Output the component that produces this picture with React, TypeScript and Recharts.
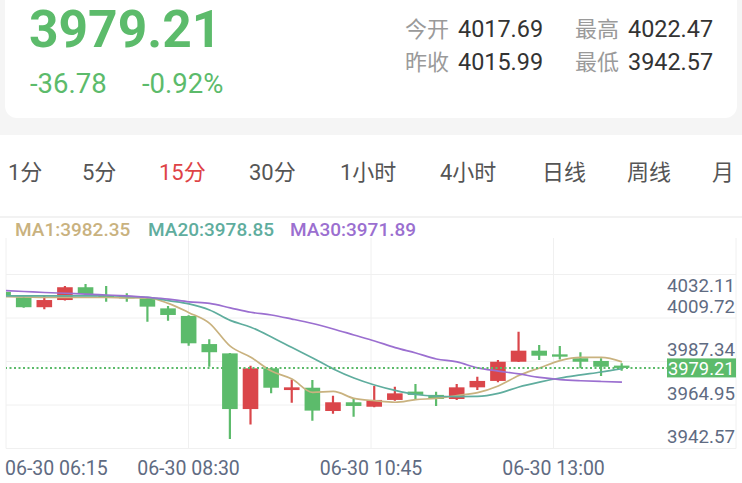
import React from "react";
import { ComposedChart, Bar, Line, XAxis, YAxis, CartesianGrid, ReferenceLine } from "recharts";

// 15分 K线 06-30
const times = [
  "06:15", "06:30", "06:45", "07:00", "07:15", "07:30", "07:45", "08:00", "08:15", "08:30",
  "08:45", "09:00", "09:15", "09:30", "09:45", "10:00", "10:15", "10:30", "10:45", "11:00",
  "11:15", "11:30", "11:45", "12:00", "12:15", "12:30", "12:45", "13:00", "13:15", "13:30", "13:45",
];
const opens = [
  4018.4, 4015.6, 4010.5, 4014.2, 4020.8, 4016.8, 4016.3, 4015.1, 4009.9, 4006.0,
  3991.5, 3986.7, 3958.0, 3979.0, 3967.8, 3969.0, 3957.0, 3961.5, 3959.2, 3962.7,
  3967.0, 3965.3, 3963.2, 3969.2, 3972.5, 3982.4, 3988.1, 3986.2, 3984.2, 3982.8, 3980.4,
];
const highs = [
  4018.9, 4015.9, 4016.8, 4021.4, 4022.47, 4021.4, 4017.7, 4015.3, 4011.1, 4006.3,
  3994.0, 3986.9, 3980.3, 3979.2, 3973.3, 3973.0, 3964.9, 3963.2, 3969.9, 3969.5,
  3970.9, 3966.9, 3970.9, 3974.7, 3983.3, 3997.9, 3991.0, 3990.5, 3987.3, 3984.2, 3981.6,
];
const lows = [
  4015.8, 4010.2, 4009.4, 4013.9, 4016.8, 4013.3, 4013.3, 4003.0, 4003.5, 3990.7,
  3979.8, 3942.57, 3950.1, 3966.1, 3961.3, 3952.0, 3955.6, 3954.1, 3958.9, 3962.3,
  3963.0, 3959.6, 3962.7, 3967.8, 3971.8, 3982.2, 3983.3, 3983.6, 3979.0, 3975.0, 3977.8,
];
const closes = [
  4016.3, 4010.5, 4014.2, 4020.8, 4017.3, 4015.9, 4015.1, 4010.8, 4006.5, 3991.9,
  3987.3, 3958.0, 3979.0, 3969.0, 3969.2, 3957.2, 3961.5, 3959.6, 3962.7, 3966.1,
  3965.3, 3963.2, 3969.2, 3972.5, 3982.4, 3988.1, 3985.5, 3985.0, 3982.4, 3979.8, 3979.21,
];
const ma1 = [
  4015.9, 4015.8, 4015.6, 4015.6, 4015.6, 4015.6, 4015.3, 4015.3, 4012.5, 4007.7,
  4002.2, 3990.4, 3984.7, 3977.6, 3973.5, 3966.6, 3967.1, 3963.5, 3962.3, 3961.5,
  3962.9, 3963.5, 3965.0, 3966.5, 3969.9, 3975.3, 3979.2, 3983.0, 3984.6, 3984.6, 3982.35,
];
const ma20 = [
  4016.3, 4016.3, 4016.3, 4016.3, 4016.3, 4016.4, 4016.0, 4015.6, 4013.9, 4012.2,
  4009.1, 4003.7, 4000.2, 3995.2, 3989.7, 3984.3, 3978.7, 3974.0, 3970.4, 3967.6,
  3965.5, 3964.6, 3964.4, 3964.5, 3966.1, 3969.4, 3971.9, 3974.0, 3975.6, 3977.1, 3978.85,
];
const ma30 = [
  4019.1, 4018.6, 4018.1, 4017.7, 4017.3, 4016.8, 4016.3, 4015.6, 4014.7, 4013.3,
  4012.5, 4010.2, 4007.9, 4006.5, 4004.4, 4002.1, 3999.3, 3996.2, 3993.1, 3989.7,
  3986.9, 3983.8, 3982.3, 3979.2, 3977.6, 3976.1, 3974.3, 3973.2, 3972.6, 3972.2, 3971.89,
];
const yTickLabels = ["3942.57", "3964.95", "3987.34", "4009.72", "4032.11", ""];
const tabs = ["1分", "5分", "15分", "30分", "1小时", "4小时", "日线", "周线", "月"];
const tabLeft = [8, 82, 159, 249, 340, 440, 542, 627, 712];

const GREEN = "#5cbb6b";
const RED = "#da464a";
const AXIS_TEXT = "#5f6b82";
const FONT = "Roboto, 'Noto Sans CJK SC', sans-serif";

const data = times.map((t, i) => ({
  i,
  time: t,
  open: opens[i],
  high: highs[i],
  low: lows[i],
  close: closes[i],
  ma1: ma1[i],
  ma20: ma20[i],
  ma30: ma30[i],
}));

const X_DOMAIN: [number, number] = [0.127, 35.53];
const Y_DOMAIN: [number, number] = [3937.67, 4049.79];
const xTicks = [0, 1, 2, 3, 4].map((k) => X_DOMAIN[0] + ((X_DOMAIN[1] - X_DOMAIN[0]) * k) / 4);
const yTicks = [0, 1, 2, 3, 4, 5].map((k) => Y_DOMAIN[0] + ((Y_DOMAIN[1] - Y_DOMAIN[0]) * k) / 5);
const last = closes[closes.length - 1];

function Candle(props: any) {
  const { x, y, width, height, payload } = props;
  if (!payload) return null;
  const top = Math.min(y, y + height);
  const h = Math.abs(height);
  const { open, close, high, low } = payload;
  const k = h / (high - low);
  const yOf = (v: number) => top + (high - v) * k;
  const color = close >= open ? RED : GREEN;
  const cx = x + width / 2;
  const bTop = yOf(Math.max(open, close));
  const bBot = yOf(Math.min(open, close));
  return (
    <g>
      <line x1={cx} x2={cx} y1={top} y2={top + h} stroke={color} strokeWidth={2.2} />
      <rect x={cx - 7.8} y={bTop} width={15.6} height={Math.max(bBot - bTop, 2)} fill={color} />
    </g>
  );
}

function XTick(props: any) {
  const { x, y, payload, index } = props;
  const idx = Math.round(payload.value);
  if (index > 3 || !times[idx]) return null;
  return (
    <text x={index === 0 ? x - 1 : x} y={y + 18} textAnchor={index === 0 ? "start" : "middle"}
      fill={AXIS_TEXT} fontSize={19.5} fontFamily={FONT}>
      {"06-30 " + times[idx]}
    </text>
  );
}

function YTick(props: any) {
  const { y, index } = props;
  const label = yTickLabels[index];
  if (!label) return null;
  return (
    <text x={735} y={index === 4 ? y + 17.5 : y - 5.5} textAnchor="end"
      fill={AXIS_TEXT} fontSize={18.7} fontFamily={FONT}>
      {label}
    </text>
  );
}

function PriceTag(props: any) {
  const vb = props.viewBox || {};
  const right = vb.x + vb.width;
  return (
    <g>
      <rect x={right - 69} y={vb.y - 9.5} width={69} height={19} fill={GREEN} />
      <text x={right - 1.5} y={vb.y + 6.8} textAnchor="end" fill="#fff" fontSize={18.3}
        fontFamily={FONT}>
        {last.toFixed(2)}
      </text>
    </g>
  );
}

export default function App() {
  const abs = (s: React.CSSProperties): React.CSSProperties => ({ position: "absolute", whiteSpace: "nowrap", ...s });
  return (
    <div style={{ position: "relative", width: 742, height: 483, overflow: "hidden", background: "#fff", fontFamily: FONT }}>
      <style>{"body{margin:0}"}</style>
      <div style={abs({ left: 0, top: 0, width: 742, height: 135, background: "#f5f5f5" })} />
      <div style={abs({ left: 5, top: -14, width: 732, height: 132, background: "#fff", borderRadius: 12 })} />

      <div style={abs({ left: 29, top: 4, fontSize: 51.5, lineHeight: "52px", fontWeight: 700, color: GREEN })}>3979.21</div>
      <div style={abs({ left: 30, top: 70, fontSize: 27.5, lineHeight: "27.5px", color: GREEN })}>-36.78</div>
      <div style={abs({ left: 142, top: 70, fontSize: 27.5, lineHeight: "27.5px", color: GREEN })}>-0.92%</div>

      {[
        ["今开", "4017.69", 405, 18],
        ["最高", "4022.47", 575, 18],
        ["昨收", "4015.99", 405, 51],
        ["最低", "3942.57", 575, 51],
      ].map(([k, v, l, t]) => (
        <div key={k as string} style={abs({ left: l as number, top: t as number, fontSize: 22, lineHeight: "23px" })}>
          <span style={{ color: "#9a9a9a" }}>{k}</span>
          <span style={{ color: "#333", marginLeft: 9, fontSize: 23.4 }}>{v}</span>
        </div>
      ))}

      {tabs.map((t, i) => (
        <div key={t} style={abs({ left: tabLeft[i], top: 162, fontSize: 22, lineHeight: "22px", color: t === "15分" ? "#de4346" : "#555" })}>
          {t}
        </div>
      ))}
      <div style={abs({ left: 0, top: 216, width: 742, height: 2, background: "#f2f2f2" })} />

      <div style={abs({ left: 0, top: 0 })}>
        <ComposedChart width={742} height={483} data={data} margin={{ top: 231, right: 6, bottom: 0, left: 6 }}>
          <CartesianGrid stroke="#f0f0f0" />
          <XAxis dataKey="i" type="number" domain={X_DOMAIN} ticks={xTicks} allowDataOverflow
            axisLine={false} tickLine={false} height={34.5} tick={<XTick />} interval={0} />
          <YAxis type="number" domain={Y_DOMAIN} ticks={yTicks} allowDataOverflow orientation="right"
            mirror axisLine={false} tickLine={false} tick={<YTick />} interval={0} />
          <Bar dataKey={(d: any) => [d.low, d.high]} barSize={16} shape={<Candle />} isAnimationActive={false} />
          <Line type="monotone" dataKey="ma1" stroke="#c9b27f" strokeWidth={1.7} dot={false} isAnimationActive={false} />
          <Line type="monotone" dataKey="ma20" stroke="#5fad9e" strokeWidth={1.7} dot={false} isAnimationActive={false} />
          <Line type="monotone" dataKey="ma30" stroke="#9b6fd0" strokeWidth={1.7} dot={false} isAnimationActive={false} />
          <ReferenceLine y={last} stroke={GREEN} strokeWidth={2} strokeDasharray="2 2.5" label={<PriceTag />} />
        </ComposedChart>
      </div>

      <div style={abs({ left: 0, top: 219, width: 742, height: 19, background: "#fff", fontSize: 19, lineHeight: "19px", fontWeight: 500 })}>
        <span style={abs({ left: 15, top: 1, color: "#c9b27f" })}>MA1:{ma1[ma1.length - 1].toFixed(2)}</span>
        <span style={abs({ left: 148, top: 1, color: "#5fad9e" })}>MA20:{ma20[ma20.length - 1].toFixed(2)}</span>
        <span style={abs({ left: 290, top: 1, color: "#9b6fd0" })}>MA30:{ma30[ma30.length - 1].toFixed(2)}</span>
      </div>
    </div>
  );
}
